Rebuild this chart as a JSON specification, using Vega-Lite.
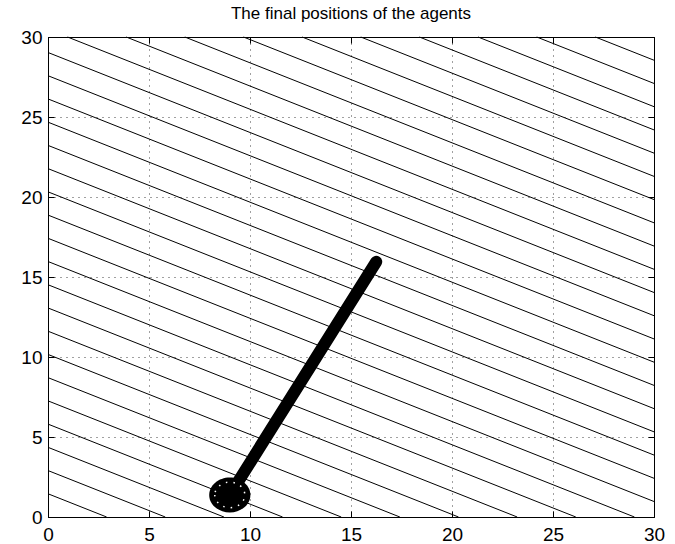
{
  "$schema": "https://vega.github.io/schema/vega-lite/v6.json",
  "width": 606,
  "height": 480,
  "padding": {"left": 48, "top": 37, "right": 21, "bottom": 27},
  "autosize": {"type": "none"},
  "background": "white",
  "title": {
    "text": "The final positions of the agents",
    "font": "Liberation Sans",
    "fontSize": 17,
    "fontWeight": "normal",
    "color": "black",
    "anchor": "middle",
    "baseline": "alphabetic",
    "offset": 15,
    "dy": 23
  },
  "config": {
    "view": {"stroke": "black", "strokeWidth": 1},
    "axis": {
      "labelFont": "Liberation Sans",
      "labelFontSize": 19,
      "labelColor": "black",
      "domainColor": "black",
      "tickColor": "black",
      "tickSize": -6,
      "title": null,
      "gridColor": "black",
      "gridDash": [1, 5],
      "gridOpacity": 0.75,
      "gridWidth": 1
    }
  },
  "datasets": {
    "contours": [
      {"level": 1, "xa": 0, "ya": 1.452, "xb": 2.903, "yb": 0},
      {"level": 2, "xa": 0, "ya": 2.903, "xb": 5.806, "yb": 0},
      {"level": 3, "xa": 0, "ya": 4.355, "xb": 8.71, "yb": 0},
      {"level": 4, "xa": 0, "ya": 5.806, "xb": 11.613, "yb": 0},
      {"level": 5, "xa": 0, "ya": 7.258, "xb": 14.516, "yb": 0},
      {"level": 6, "xa": 0, "ya": 8.71, "xb": 17.419, "yb": 0},
      {"level": 7, "xa": 0, "ya": 10.161, "xb": 20.323, "yb": 0},
      {"level": 8, "xa": 0, "ya": 11.613, "xb": 23.226, "yb": 0},
      {"level": 9, "xa": 0, "ya": 13.065, "xb": 26.129, "yb": 0},
      {"level": 10, "xa": 0, "ya": 14.516, "xb": 29.032, "yb": 0},
      {"level": 11, "xa": 0, "ya": 15.968, "xb": 30, "yb": 0.968},
      {"level": 12, "xa": 0, "ya": 17.419, "xb": 30, "yb": 2.419},
      {"level": 13, "xa": 0, "ya": 18.871, "xb": 30, "yb": 3.871},
      {"level": 14, "xa": 0, "ya": 20.323, "xb": 30, "yb": 5.323},
      {"level": 15, "xa": 0, "ya": 21.774, "xb": 30, "yb": 6.774},
      {"level": 16, "xa": 0, "ya": 23.226, "xb": 30, "yb": 8.226},
      {"level": 17, "xa": 0, "ya": 24.677, "xb": 30, "yb": 9.677},
      {"level": 18, "xa": 0, "ya": 26.129, "xb": 30, "yb": 11.129},
      {"level": 19, "xa": 0, "ya": 27.581, "xb": 30, "yb": 12.581},
      {"level": 20, "xa": 0, "ya": 29.032, "xb": 30, "yb": 14.032},
      {"level": 21, "xa": 0.968, "ya": 30, "xb": 30, "yb": 15.484},
      {"level": 22, "xa": 3.871, "ya": 30, "xb": 30, "yb": 16.935},
      {"level": 23, "xa": 6.774, "ya": 30, "xb": 30, "yb": 18.387},
      {"level": 24, "xa": 9.677, "ya": 30, "xb": 30, "yb": 19.839},
      {"level": 25, "xa": 12.581, "ya": 30, "xb": 30, "yb": 21.29},
      {"level": 26, "xa": 15.484, "ya": 30, "xb": 30, "yb": 22.742},
      {"level": 27, "xa": 18.387, "ya": 30, "xb": 30, "yb": 24.194},
      {"level": 28, "xa": 21.29, "ya": 30, "xb": 30, "yb": 25.645},
      {"level": 29, "xa": 24.194, "ya": 30, "xb": 30, "yb": 27.097},
      {"level": 30, "xa": 27.097, "ya": 30, "xb": 30, "yb": 28.548}
    ],
    "path": [
      {"xa": 9.0, "ya": 1.38, "xb": 16.25, "yb": 15.95}
    ],
    "cluster": [
      {"x": 9.0, "y": 1.38}
    ]
  },
  "resolve": {"axis": {"x": "independent", "y": "independent"}},
  "layer": [
    {
      "data": {"name": "contours"},
      "mark": {"type": "rule", "color": "black", "strokeWidth": 1},
      "encoding": {
        "x": {
          "field": "xa", "type": "quantitative",
          "scale": {"domain": [0, 30], "nice": false, "zero": false},
          "axis": {"values": [0, 5, 10, 15, 20, 25, 30], "grid": true, "labelPadding": 14, "labelFlush": false, "labelOverlap": false}
        },
        "y": {
          "field": "ya", "type": "quantitative",
          "scale": {"domain": [0, 30], "nice": false, "zero": false},
          "axis": {"values": [0, 5, 10, 15, 20, 25, 30], "grid": true, "labelPadding": 12, "labelFlush": false, "labelOverlap": false}
        },
        "x2": {"field": "xb"},
        "y2": {"field": "yb"}
      }
    },
    {
      "data": {"name": "path"},
      "mark": {"type": "rule", "color": "black", "strokeWidth": 12, "strokeCap": "round"},
      "encoding": {
        "x": {"field": "xa", "type": "quantitative", "axis": {"orient": "top", "values": [0, 5, 10, 15, 20, 25, 30], "labels": false, "grid": false, "domain": false}},
        "y": {"field": "ya", "type": "quantitative", "axis": {"orient": "right", "values": [0, 5, 10, 15, 20, 25, 30], "labels": false, "grid": false, "domain": false}},
        "x2": {"field": "xb"},
        "y2": {"field": "yb"}
      }
    },
    {
      "data": {"name": "cluster"},
      "mark": {
        "type": "point",
        "filled": true,
        "color": "black",
        "opacity": 1,
        "shape": "M-1,0A1,0.85,0,1,0,1,0A1,0.85,0,1,0,-1,0Z",
        "size": 1700
      },
      "encoding": {
        "x": {"field": "x", "type": "quantitative", "axis": null},
        "y": {"field": "y", "type": "quantitative", "axis": null}
      }
    },
    {
      "data": {"name": "cluster"},
      "mark": {
        "type": "point",
        "filled": false,
        "stroke": "white",
        "strokeWidth": 1.5,
        "strokeDash": [1.5, 6],
        "opacity": 1,
        "shape": "M-1,0A1,0.85,0,1,0,1,0A1,0.85,0,1,0,-1,0Z",
        "size": 900
      },
      "encoding": {
        "x": {"field": "x", "type": "quantitative", "axis": null},
        "y": {"field": "y", "type": "quantitative", "axis": null}
      }
    }
  ]
}
